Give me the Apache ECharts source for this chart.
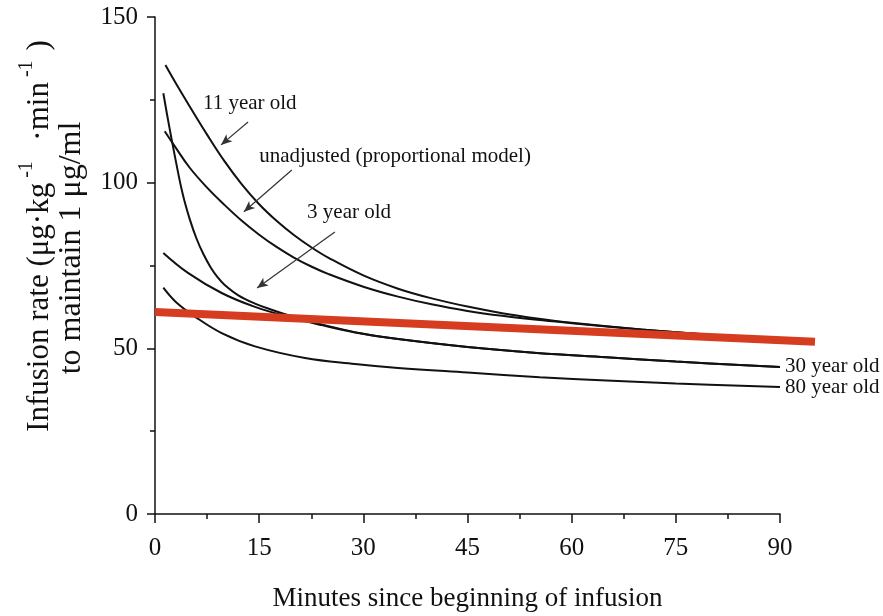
<!DOCTYPE html>
<html>
<head>
<meta charset="utf-8">
<script src="https://cdn.jsdelivr.net/npm/echarts@6/dist/echarts.min.js"></script>
<style>
html,body{margin:0;padding:0;background:#fff;}
#chart{width:883px;height:616px;}
</style>
</head>
<body>
<div id="chart"></div>
<script>
// ---- data ----
const xTicks = [0, 15, 30, 45, 60, 75, 90];
const yTicks = [0, 50, 100, 150];

const elevenX = [1.5, 3, 5, 7.5, 10, 12.5, 15, 17.5, 20, 22.5, 25, 30, 35, 40, 45, 50, 55, 60, 70, 80, 90];
const elevenY = [135.5, 130, 123, 114.5, 106.5, 99.5, 93.5, 88.5, 84.2, 80.5, 77.3, 72, 68, 65, 62.6, 60.6, 59, 57.7, 55.7, 54.1, 52.8];

const unadjX = [1.4, 3, 5, 7.5, 10, 12.5, 15, 17.5, 20, 22.5, 25, 30, 35, 40, 45, 50, 55, 60, 70, 80, 90];
const unadjY = [115.5, 110.5, 104.5, 98.5, 93.3, 88.5, 84.3, 80.6, 77.4, 74.7, 72.4, 68.6, 65.6, 63.2, 61.3, 59.8, 58.6, 57.6, 55.7, 54.1, 52.8];

const threeX = [1.2, 2, 3, 4, 5, 6, 7, 8, 9, 10, 12, 14.4, 17, 20, 25, 30, 35, 45, 55, 65, 75, 90];
const threeY = [127, 117.5, 106.5, 96.5, 89, 83, 78.3, 74.5, 71.5, 69.2, 66, 63.5, 61.5, 59.5, 56.7, 54.4, 52.8, 50.4, 48.6, 47.3, 46, 44.4];

const thirtyX = [1.2, 4.8, 9.6, 14.4, 19.2, 24, 28.8, 35, 45, 55, 65, 75, 90];
const thirtyY = [78.8, 72.7, 66.7, 62.5, 59.5, 57, 54.8, 52.8, 50.4, 48.6, 47.3, 46, 44.4];

const eightyX = [1.2, 3, 5.8, 9.6, 14.4, 21.6, 28.8, 35, 45, 55.4, 65, 75, 90];
const eightyY = [68.3, 64, 59.5, 54.6, 50.6, 47.1, 45.3, 44.1, 42.7, 41.3, 40.3, 39.4, 38.3];

const redX = [0, 95];
const redY = [61, 52];

const seriesNames = ['11 year old', 'unadjusted (proportional model)', '3 year old', '30 year old', '80 year old'];

// annotation label anchors [x, y] and arrows [from, to] in data units
const labelAt = {
  '11 year old': [6.9, 124],
  'unadjusted (proportional model)': [15, 108],
  '3 year old': [21.9, 90.9]
};
const arrowFrom = {
  '11 year old': [13.4, 118.3],
  'unadjusted (proportional model)': [19.7, 103.8],
  '3 year old': [25.9, 85.1]
};
const arrowTo = {
  '11 year old': [9.5, 111.4],
  'unadjusted (proportional model)': [12.8, 91.2],
  '3 year old': [14.7, 68.2]
};

// ---- build chart ----
const FONT = 'Liberation Serif';
const zip = (xs, ys) => xs.map((x, i) => [x, ys[i]]);

function curve(name, xs, ys, endLabel) {
  const s = {
    name: name,
    type: 'line',
    data: zip(xs, ys),
    smooth: 0.4,
    symbol: 'none',
    lineStyle: { color: '#111', width: 2 },
    z: 3,
    silent: true
  };
  if (endLabel) {
    s.endLabel = {
      show: true, formatter: name, distance: 5,
      fontFamily: FONT, fontSize: 21, color: '#111'
    };
  }
  if (labelAt[name]) {
    s.markPoint = {
      symbol: 'circle', symbolSize: 0,
      data: [{ coord: labelAt[name], name: name }],
      label: {
        show: true, position: 'right', distance: 0, formatter: name,
        fontFamily: FONT, fontSize: 21, color: '#111'
      }
    };
    s.markLine = {
      silent: true,
      symbol: ['none', 'arrow'], symbolSize: [7, 11],
      label: { show: false },
      lineStyle: { color: '#333', width: 1.2, type: 'solid' },
      data: [[{ coord: arrowFrom[name] }, { coord: arrowTo[name] }]]
    };
  }
  return s;
}

const chart = echarts.init(document.getElementById('chart'), null, { renderer: 'canvas' });

const tickStyle = { color: '#111', width: 1.5 };

const option = {
  animation: false,
  backgroundColor: '#fff',
  grid: [
    { left: 155, right: 103, top: 17, bottom: 102, outerBoundsMode: 'none' },
    // companion grid sharing the same scale, wide enough for the red line that runs past 90 min
    { left: 155, right: 68, top: 17, bottom: 102, outerBoundsMode: 'none' }
  ],
  xAxis: [
    {
      type: 'value', min: xTicks[0], max: xTicks[xTicks.length - 1], interval: 15,
      name: 'Minutes since beginning of infusion',
      nameLocation: 'middle', nameGap: 71,
      nameTextStyle: { fontFamily: FONT, fontSize: 27, color: '#111' },
      axisLine: { show: true, lineStyle: tickStyle },
      axisTick: { show: true, length: 9, lineStyle: tickStyle },
      minorTick: { show: true, splitNumber: 2, length: 5, lineStyle: tickStyle },
      splitLine: { show: false },
      axisLabel: { fontFamily: FONT, fontSize: 25, color: '#111', margin: 22,
        formatter: v => xTicks.includes(v) ? String(v) : '' }
    },
    { gridIndex: 1, type: 'value', min: 0, max: 95, show: false }
  ],
  yAxis: [
    {
      type: 'value', min: yTicks[0], max: yTicks[yTicks.length - 1], interval: 50,
      axisLine: { show: true, lineStyle: tickStyle },
      axisTick: { show: true, length: 8, lineStyle: tickStyle },
      minorTick: { show: true, splitNumber: 2, length: 5, lineStyle: tickStyle },
      splitLine: { show: false },
      axisLabel: { fontFamily: FONT, fontSize: 25, color: '#111', margin: 17,
        formatter: v => yTicks.includes(v) ? String(v) : '' }
    },
    { gridIndex: 1, type: 'value', min: yTicks[0], max: yTicks[yTicks.length - 1], show: false }
  ],
  graphic: [
    {
      type: 'text', x: 36, y: 236, rotation: Math.PI / 2,
      style: {
        text: '{n|Infusion rate (\u03BCg\u00B7kg}{s| -1 }{n|  \u00B7min}{s| -1  }{n|)}',
        align: 'center', verticalAlign: 'middle',
        fill: '#111',
        rich: {
          n: { fontFamily: FONT, fontSize: 31, fill: '#111', color: '#111', lineHeight: 38, verticalAlign: 'bottom' },
          s: { fontFamily: FONT, fontSize: 20, fill: '#111', color: '#111', lineHeight: 38, verticalAlign: 'top' }
        }
      }
    },
    {
      type: 'text', x: 72, y: 248, rotation: Math.PI / 2,
      style: {
        text: 'to maintain 1 \u03BCg/ml',
        align: 'center', verticalAlign: 'middle',
        font: '32px "Liberation Serif"', fill: '#111'
      }
    }
  ],
  series: [
    curve(seriesNames[0], elevenX, elevenY, false),
    curve(seriesNames[1], unadjX, unadjY, false),
    curve(seriesNames[2], threeX, threeY, false),
    curve(seriesNames[3], thirtyX, thirtyY, true),
    curve(seriesNames[4], eightyX, eightyY, true),
    {
      name: 'reference',
      type: 'line',
      xAxisIndex: 1, yAxisIndex: 1,
      data: zip(redX, redY),
      symbol: 'none',
      lineStyle: { color: '#d63c1f', width: 8, cap: 'butt' },
      z: 5,
      silent: true
    }
  ]
};
chart.setOption(option);
</script>
</body>
</html>
